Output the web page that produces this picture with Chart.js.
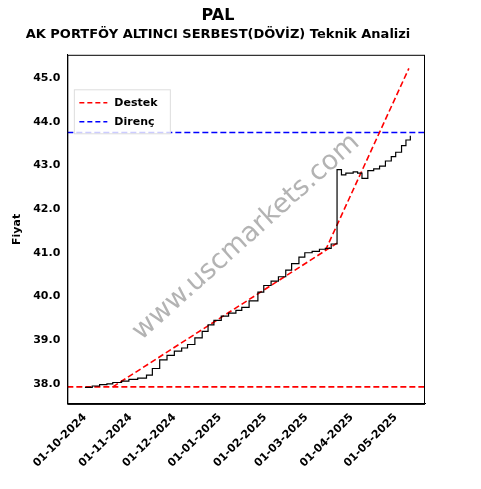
<!DOCTYPE html>
<html lang="tr">
<head>
<meta charset="UTF-8">
<title>PAL Teknik Analizi</title>
<script src="https://cdn.jsdelivr.net/npm/chart.js"></script>
<style>
  body { margin: 0; background: #fff; }
  #wrap { width: 481px; height: 489px; }
</style>
</head>
<body>
<div id="wrap"><canvas id="c" width="481" height="489"></canvas></div>
<script>
// days counted from 01-10-2024
const monthDays = [0, 31, 61, 92, 123, 151, 182, 212];
const monthLabels = ['01-10-2024', '01-11-2024', '01-12-2024', '01-01-2025', '01-02-2025', '01-03-2025', '01-04-2025', '01-05-2025'];

const priceDays = [0, 5, 10, 15, 19, 25, 30, 36, 42, 46, 51, 56, 61, 66, 70, 75, 80, 84, 88, 93, 98, 103, 107, 112, 118, 122, 127, 132, 137, 141, 146, 150, 155, 160, 164, 168, 172, 172, 175, 178, 183, 186, 189, 193, 197, 201, 205, 209, 212, 216, 219, 222];
const priceVals = [37.92, 37.95, 37.98, 38.0, 38.03, 38.06, 38.1, 38.13, 38.2, 38.35, 38.55, 38.65, 38.75, 38.82, 38.9, 39.05, 39.2, 39.35, 39.45, 39.55, 39.62, 39.68, 39.75, 39.9, 40.1, 40.25, 40.35, 40.45, 40.6, 40.75, 40.9, 41.0, 41.03, 41.08, 41.1, 41.2, 41.35, 42.9, 42.78, 42.82, 42.85, 42.82, 42.7, 42.88, 42.92, 42.98, 43.1, 43.2, 43.3, 43.45, 43.58, 43.68];

const trend1Days = [19, 172];
const trend1Vals = [37.93, 41.22];
const trend2Days = [164, 221];
const trend2Vals = [41.05, 45.22];
const supportVal = 37.93;
const resistVal = 43.75;
const xMin = -12, xMax = 232;

const pts = (xs, ys) => xs.map((x, i) => ({ x: x, y: ys[i] }));

const watermark = {
  id: 'watermark',
  beforeDatasetsDraw(chart) {
    const a = chart.chartArea, ctx = chart.ctx;
    ctx.save();
    ctx.translate((a.left + a.right) / 2, (a.top + a.bottom) / 2 + 8);
    ctx.rotate(-Math.PI / 4.3);
    ctx.font = '27px "DejaVu Sans"';
    ctx.fillStyle = 'rgba(128,128,128,0.6)';
    ctx.textAlign = 'center';
    ctx.textBaseline = 'middle';
    ctx.fillText('www.uscmarkets.com', 0, 0);
    ctx.restore();
  }
};

const frameAndLegend = {
  id: 'frameAndLegend',
  afterDraw(chart) {
    const a = chart.chartArea, ctx = chart.ctx;
    ctx.save();
    ctx.strokeStyle = '#000';
    ctx.lineWidth = 1;
    ctx.strokeRect(a.left + 0.5, a.top + 0.5, a.right - a.left - 1, a.bottom - a.top);
    const items = [['Destek', '#ff0000'], ['Direnç', '#0000ff']];
    ctx.fillStyle = 'rgba(255,255,255,0.8)';
    ctx.strokeStyle = '#ddd';
    ctx.fillRect(a.left + 7, a.top + 35, 96, 44);
    ctx.strokeRect(a.left + 7, a.top + 35, 96, 44);
    ctx.font = 'bold 11px "DejaVu Sans"';
    ctx.textBaseline = 'middle';
    items.forEach((it, i) => {
      const y = a.top + 48 + i * 19;
      ctx.strokeStyle = it[1];
      ctx.lineWidth = 1.6;
      ctx.setLineDash([5, 3]);
      ctx.beginPath();
      ctx.moveTo(a.left + 12, y);
      ctx.lineTo(a.left + 40, y);
      ctx.stroke();
      ctx.setLineDash([]);
      ctx.fillStyle = '#000';
      ctx.fillText(it[0], a.left + 47, y);
    });
    ctx.restore();
  }
};

new Chart(document.getElementById('c'), {
  type: 'line',
  data: {
    datasets: [
      { label: 'Fiyat', data: pts(priceDays, priceVals), borderColor: '#000', borderWidth: 1.2, stepped: true, pointRadius: 0 },
      { label: 'Destek', data: pts(trend1Days, trend1Vals), borderColor: '#ff0000', borderWidth: 1.6, borderDash: [6, 3], pointRadius: 0 },
      { label: 'Destek2', data: pts(trend2Days, trend2Vals), borderColor: '#ff0000', borderWidth: 1.6, borderDash: [6, 3], pointRadius: 0 },
      { label: 'DestekYatay', data: pts([xMin, xMax], [supportVal, supportVal]), borderColor: '#ff0000', borderWidth: 1.6, borderDash: [6, 3], pointRadius: 0 },
      { label: 'Direnç', data: pts([xMin, xMax], [resistVal, resistVal]), borderColor: '#0000ff', borderWidth: 1.6, borderDash: [6, 3], pointRadius: 0 }
    ]
  },
  options: {
    responsive: false,
    animation: false,
    layout: { padding: { left: 11, right: 56, top: 2, bottom: 16 } },
    plugins: {
      legend: { display: false },
      tooltip: { enabled: false },
      title: { display: true, text: ['PAL'], color: '#000', font: { size: 16, weight: 'bold', family: 'DejaVu Sans' }, padding: { top: 4, bottom: 0 } },
      subtitle: { display: true, text: 'AK PORTFÖY ALTINCI SERBEST(DÖVİZ) Teknik Analizi', color: '#000', font: { size: 13, weight: 'bold', family: 'DejaVu Sans' }, padding: { top: 2, bottom: 12 } }
    },
    scales: {
      x: {
        type: 'linear', min: xMin, max: xMax,
        grid: { display: false, drawTicks: true, tickLength: 4, tickColor: '#000' },
        border: { color: '#000' },
        afterBuildTicks: s => { s.ticks = monthDays.map(v => ({ value: v })); },
        ticks: {
          color: '#000', font: { size: 11, weight: 'bold', family: 'DejaVu Sans' }, maxRotation: 45, minRotation: 45, autoSkip: false,
          callback: v => monthLabels[monthDays.indexOf(v)]
        }
      },
      y: {
        min: 37.54, max: 45.53,
        grid: { display: false, drawTicks: true, tickLength: 4, tickColor: '#000' },
        border: { color: '#000' },
        afterBuildTicks: s => { s.ticks = [38, 39, 40, 41, 42, 43, 44, 45].map(v => ({ value: v })); },
        title: { display: true, text: 'Fiyat', color: '#000', font: { size: 11, weight: 'bold', family: 'DejaVu Sans' }, padding: { top: 0, bottom: 6 } },
        ticks: { color: '#000', font: { size: 11, weight: 'bold', family: 'DejaVu Sans' }, callback: v => v.toFixed(1) }
      }
    }
  },
  plugins: [watermark, frameAndLegend]
});
</script>
</body>
</html>
